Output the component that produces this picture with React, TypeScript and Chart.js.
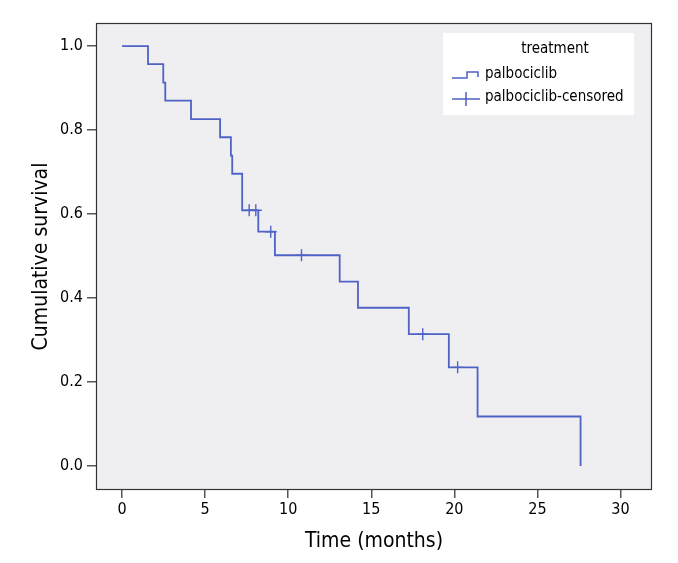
import React, { useEffect, useRef } from "react";
import { Chart, registerables } from "chart.js";

Chart.register(...registerables);

// Kaplan–Meier step points (time in months, survival after the drop)
const stepTimes = [0, 1.56, 2.48, 2.6, 4.15, 5.9, 6.55, 6.63, 7.23, 8.2, 9.2, 13.1, 14.2, 17.26, 19.67, 21.4, 27.6, 27.6];
const stepSurvival = [1.0, 0.957, 0.913, 0.87, 0.826, 0.783, 0.739, 0.696, 0.609, 0.558, 0.502, 0.439, 0.377, 0.314, 0.235, 0.118, 0.118, 0.0];

// censored observations
const censorTimes = [7.65, 8.05, 8.95, 10.8, 18.1, 20.2];
const censorSurvival = [0.609, 0.609, 0.558, 0.502, 0.314, 0.235];

const xTickValues = [0, 5, 10, 15, 20, 25, 30];
const yTickValues = [0.0, 0.2, 0.4, 0.6, 0.8, 1.0];

const seriesName = "palbociclib";
const censorName = "palbociclib-censored";
const legendTitle = "treatment";
const xTitle = "Time (months)";
const yTitle = "Cumulative survival";

const FONT = "'DejaVu Sans Condensed', 'Liberation Sans Narrow', sans-serif";
const LINE = "#4f62c6";

const frame = {
  id: "frame",
  beforeDatasetsDraw(chart: any) {
    const { ctx, chartArea: a } = chart;
    ctx.save();
    ctx.fillStyle = "#efeff1";
    ctx.fillRect(a.left, a.top, a.right - a.left, a.bottom - a.top);
    ctx.restore();
  },
  afterDraw(chart: any) {
    const { ctx, chartArea: a } = chart;
    ctx.save();
    ctx.strokeStyle = "#333";
    ctx.lineWidth = 1.2;
    ctx.strokeRect(a.left + 0.5, a.top + 0.5, a.right - a.left - 1, a.bottom - a.top - 1);

    // legend
    const bx = 443, by = 33, bw = 191, bh = 82;
    ctx.fillStyle = "#ffffff";
    ctx.fillRect(bx, by, bw, bh);
    ctx.fillStyle = "#000";
    ctx.font = `15px ${FONT}`;
    ctx.textAlign = "center";
    ctx.textBaseline = "middle";
    ctx.fillText(legendTitle, 555, 49);
    ctx.textAlign = "left";
    ctx.fillText(seriesName, 485, 74);
    ctx.fillText(censorName, 485, 97);

    ctx.strokeStyle = LINE;
    ctx.lineWidth = 1.5;
    ctx.beginPath();
    ctx.moveTo(452, 78);
    ctx.lineTo(467, 78);
    ctx.lineTo(467, 72);
    ctx.lineTo(478, 72);
    ctx.lineTo(478, 77);
    ctx.stroke();

    ctx.beginPath();
    ctx.moveTo(452, 99);
    ctx.lineTo(480, 99);
    ctx.moveTo(466, 92);
    ctx.lineTo(466, 106);
    ctx.stroke();
    ctx.restore();
  },
};

export default function App() {
  const ref = useRef<HTMLCanvasElement>(null);

  useEffect(() => {
    if (!ref.current) return;
    const chart = new Chart(ref.current, {
      type: "line",
      data: {
        datasets: [
          {
            label: seriesName,
            data: stepTimes.map((t, i) => ({ x: t, y: stepSurvival[i] })),
            stepped: "before",
            borderColor: LINE,
            borderWidth: 1.8,
            pointRadius: 0,
            fill: false,
          },
          {
            label: censorName,
            type: "scatter",
            data: censorTimes.map((t, i) => ({ x: t, y: censorSurvival[i] })),
            pointStyle: "cross",
            pointRadius: 6,
            borderColor: LINE,
            borderWidth: 1.4,
            showLine: false,
          } as any,
        ],
      },
      options: {
        animation: false,
        responsive: false,
        maintainAspectRatio: false,
        layout: { padding: { left: 0, right: 26, top: 23, bottom: 0 } },
        plugins: { legend: { display: false }, tooltip: { enabled: false } },
        scales: {
          x: {
            type: "linear",
            min: -1.57,
            max: 31.9,
            afterBuildTicks: (s: any) => {
              s.ticks = xTickValues.map((v) => ({ value: v }));
            },
            afterFit: (s: any) => {
              s.height = 73;
            },
            ticks: {
              color: "#000",
              font: { family: FONT, size: 16 },
              padding: 2,
              callback: (v: any) => String(v),
            },
            grid: { drawOnChartArea: false, tickLength: 8, color: "#555", lineWidth: 1.5 },
            border: { display: false },
            title: {
              display: true,
              text: xTitle,
              color: "#000",
              font: { family: FONT, size: 21 },
              padding: { top: 4, bottom: 9 },
            },
          },
          y: {
            type: "linear",
            min: -0.057,
            max: 1.055,
            afterBuildTicks: (s: any) => {
              s.ticks = yTickValues.map((v) => ({ value: v }));
            },
            afterFit: (s: any) => {
              s.width = 96;
            },
            ticks: {
              color: "#000",
              font: { family: FONT, size: 16 },
              padding: 4,
              callback: (v: any) => Number(v).toFixed(1),
            },
            grid: { drawOnChartArea: false, tickLength: 9, color: "#555", lineWidth: 1.5 },
            border: { display: false },
            title: {
              display: true,
              text: yTitle,
              color: "#000",
              font: { family: FONT, size: 21 },
              padding: { top: 29, bottom: 0 },
            },
          },
        },
      },
      plugins: [frame],
    });
    return () => chart.destroy();
  }, []);

  return (
    <div style={{ position: "absolute", left: 0, top: 0, width: 678, height: 563, background: "#fff" }}>
      <canvas ref={ref} width={678} height={563} style={{ width: 678, height: 563 }} />
    </div>
  );
}
